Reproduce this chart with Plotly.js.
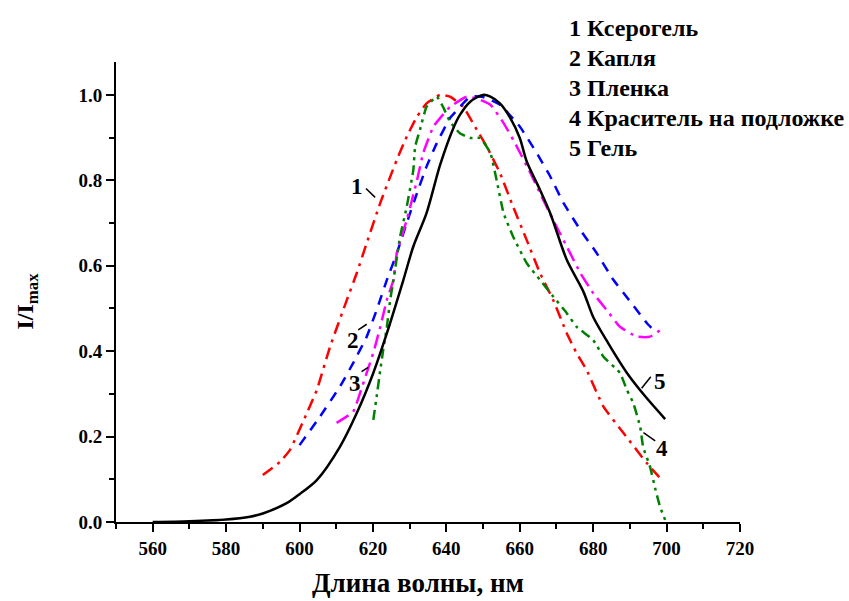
<!DOCTYPE html>
<html><head><meta charset="utf-8">
<script src="https://cdn.plot.ly/plotly-3.0.1.min.js"></script>
<style>body{margin:0;background:#fff}#c{width:849px;height:601px}</style>
</head><body><div id="c"></div>
<script>
// 1 Ксерогель (red)
const x1 = [590,594.7,597.4,602,604.7,608.3,612.9,615.6,618.3,622,626.5,629.2,632,634.6,638.3,641,644.6,648.3,651,654.6,658.2,661.9,665.5,669.1,672.8,675.5,678.2,682.8,688.3,694.6,698];
const y1 = [0.11,0.141,0.169,0.255,0.309,0.41,0.52,0.583,0.653,0.747,0.848,0.902,0.949,0.98,1.0,0.996,0.972,0.918,0.879,0.817,0.738,0.66,0.583,0.52,0.442,0.395,0.356,0.27,0.208,0.138,0.105];
// 2 Капля (blue)
const x2 = [600,605.6,611,614.6,618.3,621,623.8,626.5,629.2,632,634.6,637.4,641,643,646.5,650,654.6,660,664.6,668.3,671.9,676.5,681,685.5,690.1,694.6,697.3];
const y2 = [0.18,0.247,0.317,0.372,0.434,0.496,0.567,0.629,0.7,0.77,0.832,0.887,0.946,0.965,0.996,0.995,0.977,0.926,0.864,0.809,0.747,0.684,0.629,0.567,0.516,0.466,0.442];
// 3 Пленка (magenta)
const x3 = [610.1,614.6,616.5,618.3,620.1,622,623.8,625.6,626.5,629.2,632,633.7,636.5,639.2,641,645.6,648.7,652,655.6,659.2,662.9,665.5,669.1,672.8,676.5,680,683.7,687.3,691.9,695.5,699.1];
const y3 = [0.232,0.258,0.302,0.349,0.396,0.457,0.52,0.567,0.629,0.707,0.8,0.864,0.926,0.955,0.972,0.996,0.99,0.977,0.934,0.879,0.817,0.77,0.707,0.645,0.583,0.536,0.496,0.457,0.434,0.434,0.454];
// 4 Краситель на подложке (green)
const x4 = [620.1,621,622,622.8,623.8,624.7,625.6,627.4,629.2,631,631.5,632.8,634.6,637.4,639.2,641,643.7,646.5,649.2,652,653.7,655.6,658.2,661.9,665.5,669.1,672.8,675.5,680,682.8,687.3,689.2,690.9,692.8,693.6,695.5,697,698.2,699.6];
const y4 = [0.239,0.293,0.356,0.403,0.457,0.52,0.567,0.668,0.738,0.824,0.879,0.918,0.972,0.996,0.97,0.937,0.91,0.899,0.899,0.864,0.8,0.723,0.668,0.606,0.567,0.528,0.489,0.457,0.426,0.387,0.349,0.309,0.279,0.223,0.176,0.129,0.075,0.036,0.005];
// 5 Гель (black)
const x5 = [560,570,580,586.5,590,596.5,600,604.7,611,615.6,620.1,623.8,628.3,631,634.6,638.3,641.9,643.7,646.5,650,652,654.6,657.4,660,661.9,665.5,668.3,672.8,677.3,680,684,689.2,694,699.6];
const y5 = [0,0.002,0.006,0.0125,0.02,0.044,0.065,0.098,0.176,0.255,0.349,0.442,0.567,0.645,0.723,0.836,0.922,0.953,0.984,1.0,0.996,0.98,0.946,0.899,0.844,0.778,0.723,0.614,0.54,0.48,0.42,0.349,0.296,0.241];

const legendLines = ['1 Ксерогель','2 Капля','3 Пленка','4 Краситель на подложке','5 Гель'];
const curveLabels = ['1','2','3','5','4'];
const labelX = [615.7,614.7,615.1,698.2,698.7];
const labelY = [0.785,0.426,0.325,0.329,0.173];
const leadX0 = [618.1,616.0,616.9,693.2,693.7];
const leadY0 = [0.781,0.450,0.352,0.313,0.209];
const leadX1 = [620.6,618.3,618.7,695.7,696.9];
const leadY1 = [0.760,0.463,0.362,0.340,0.190];

const F = 'Liberation Serif';
const traces = [
  {x:x1,y:y1,mode:'lines',line:{color:'#ff0000',width:2.5,dash:'12px,6px,3px,6px',shape:'spline',smoothing:0.4}},
  {x:x2,y:y2,mode:'lines',line:{color:'#0000ff',width:2.5,dash:'10px,8px',shape:'spline',smoothing:0.4}},
  {x:x3,y:y3,mode:'lines',line:{color:'#ff00ff',width:2.5,dash:'14px,6px,3px,6px',shape:'spline',smoothing:0.4}},
  {x:x4,y:y4,mode:'lines',line:{color:'#008000',width:2.5,dash:'10px,5px,3px,5px,3px,5px',shape:'spline',smoothing:0.4}},
  {x:x5,y:y5,mode:'lines',line:{color:'#000000',width:2.5,shape:'spline',smoothing:0.8}}
];

const ann = [];
const tops = [1.074,1.009,0.943,0.878,0.813];
legendLines.forEach((t,i)=>ann.push({xref:'paper',yref:'paper',x:0.722,y:tops[i],xanchor:'left',yanchor:'middle',text:'<b>'+t+'</b>',showarrow:false,font:{family:F,size:24,color:'#000'}}));
curveLabels.forEach((t,i)=>ann.push({x:labelX[i],y:labelY[i],text:'<b>'+t+'</b>',showarrow:false,font:{family:F,size:23,color:'#000'}}));
ann.push({xref:'paper',yref:'paper',x:0.484,y:-0.133,xanchor:'center',yanchor:'middle',text:'<b>Длина волны, нм</b>',showarrow:false,font:{family:F,size:27,color:'#000'}});
ann.push({xref:'paper',yref:'paper',x:-0.142,y:0.48,xanchor:'center',yanchor:'middle',textangle:-90,text:'<b>I/I<sub>max</sub></b>',showarrow:false,font:{family:F,size:24,color:'#000'}});

const shapes = leadX0.map((v,i)=>({type:'line',x0:v,y0:leadY0[i],x1:leadX1[i],y1:leadY1[i],line:{color:'#000',width:1.5}}));

const layout = {
  width:849,height:601,
  margin:{l:116,r:109,t:62,b:79},
  paper_bgcolor:'#fff',plot_bgcolor:'#fff',
  showlegend:false,
  font:{family:F,color:'#000'},
  xaxis:{range:[550,720],dtick:20,tick0:560,showgrid:false,zeroline:false,showline:true,linewidth:2,linecolor:'#000',
    ticks:'outside',ticklen:8,tickwidth:2,tickcolor:'#000',
    minor:{dtick:10,tick0:550,ticks:'outside',ticklen:5,tickwidth:2,tickcolor:'#000'},
    tickfont:{family:F,size:19,color:'#000',weight:'bold'}},
  yaxis:{range:[0,1.077],dtick:0.2,tick0:0,tickformat:'.1f',showgrid:false,zeroline:false,showline:true,linewidth:2,linecolor:'#000',
    ticks:'outside',ticklen:8,tickwidth:2,tickcolor:'#000',
    minor:{dtick:0.1,ticks:'outside',ticklen:5,tickwidth:2,tickcolor:'#000'},
    tickfont:{family:F,size:19,color:'#000',weight:'bold'}},
  annotations:ann,shapes:shapes
};
Plotly.newPlot('c',traces,layout,{displayModeBar:false});
</script></body></html>
